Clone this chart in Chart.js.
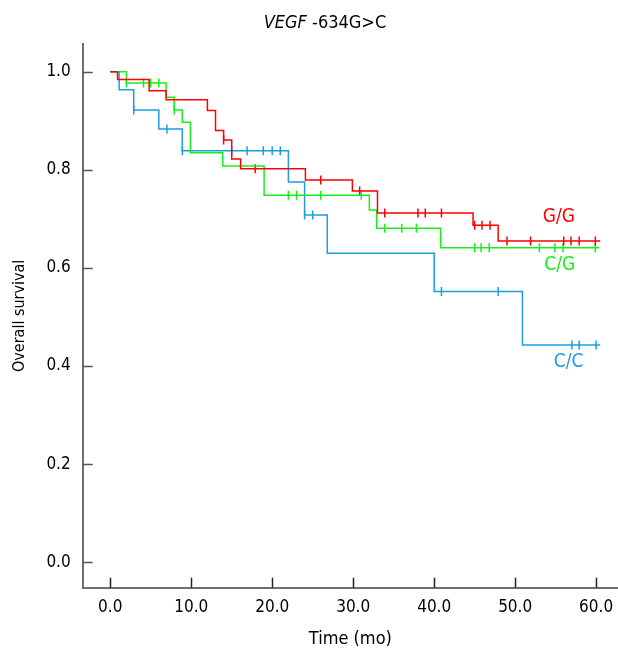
<!DOCTYPE html>
<html>
<head>
<meta charset="utf-8">
<script src="https://cdn.jsdelivr.net/npm/chart.js@4.4.1/dist/chart.umd.min.js"></script>
<style>
  html, body { margin: 0; padding: 0; background: #fff; }
</style>
</head>
<body>
<canvas id="km-chart" width="618" height="650"></canvas>
<script>
// Datos: tiempo (meses) y supervivencia global
const xTicks = [0, 10, 20, 30, 40, 50, 60];
const yTicks = [0, 0.2, 0.4, 0.6, 0.8, 1.0];

// G/G
const ggTimes = [0, 0.9, 4.8, 6.9, 12.0, 13.0, 14.0, 15.0, 16.1, 24.1, 29.9, 33.0, 44.8, 47.9, 60.5];
const ggSurv = [1.0, 0.984, 0.961, 0.943, 0.921, 0.880, 0.861, 0.822, 0.802, 0.779, 0.757, 0.712, 0.687, 0.655, 0.655];
const ggCensored = [14.0, 17.9, 26.0, 30.8, 33.9, 38.0, 38.9, 40.9, 45.0, 45.9, 46.9, 49.0, 51.9, 56.0, 56.9, 57.9, 59.9];

// C/G
const cgTimes = [0, 2.0, 6.9, 7.9, 8.9, 9.9, 13.9, 19.0, 32.0, 32.9, 40.8, 60.4];
const cgSurv = [1.0, 0.977, 0.948, 0.922, 0.897, 0.835, 0.808, 0.748, 0.718, 0.681, 0.641, 0.641];
const cgCensored = [2.0, 4.1, 5.0, 6.0, 7.9, 22.0, 23.0, 26.0, 31.0, 33.9, 36.0, 37.8, 45.0, 45.8, 46.8, 53.0, 54.9, 55.9, 59.9];

// C/C
const ccTimes = [0, 1.1, 2.9, 6.0, 8.9, 22.0, 24.0, 26.8, 40.0, 50.9, 60.5];
const ccSurv = [1.0, 0.963, 0.922, 0.883, 0.839, 0.775, 0.708, 0.630, 0.552, 0.443, 0.443];
const ccCensored = [2.9, 7.0, 8.9, 15.0, 16.9, 18.9, 20.0, 21.0, 24.0, 25.0, 40.9, 47.9, 57.0, 57.9, 60.0];

const colors = { gg: '#ff0000', cg: '#1aee1a', cc: '#1b9ee0' };
const fontFamily = '"DejaVu Sans Condensed", "DejaVu Sans", sans-serif';

// Convertir tiempos y valores a puntos {x, y}
function stepData(times, surv) {
  return times.map((t, i) => ({ x: t, y: surv[i] }));
}

// Las marcas de censura toman el valor de la curva en ese tiempo
function censorData(censored, times, surv) {
  return censored.map((c) => {
    let idx = 0;
    times.forEach((t, i) => { if (t <= c + 1e-9) idx = i; });
    return { x: c, y: surv[idx] };
  });
}

function curve(label, times, surv, color) {
  return {
    type: 'line',
    label: label,
    data: stepData(times, surv),
    borderColor: color,
    borderWidth: 1.5,
    stepped: 'before',
    pointRadius: 0,
    fill: false
  };
}

function marks(label, censored, times, surv, color) {
  return {
    type: 'scatter',
    label: label + ' censurados',
    data: censorData(censored, times, surv),
    borderColor: color,
    backgroundColor: color,
    pointStyle: 'line',
    rotation: 90,
    pointRadius: 4.5,
    borderWidth: 1.5,
    showLine: false
  };
}

// Etiquetas de cada grupo junto a las curvas
const groupLabels = [
  { text: 'G/G', x: 55.4, y: 0.704, color: colors.gg },
  { text: 'C/G', x: 55.5, y: 0.606, color: colors.cg },
  { text: 'C/C', x: 56.6, y: 0.408, color: colors.cc }
];

// Plugin: marcas de eje hacia dentro, título y etiquetas de grupo
const kmDecor = {
  id: 'kmDecor',
  afterDraw(chart) {
    const { ctx, chartArea } = chart;
    const x = chart.scales.x;
    const y = chart.scales.y;
    ctx.save();
    ctx.lineWidth = 1.5;
    ctx.strokeStyle = '#555';
    yTicks.forEach((v) => {
      const py = Math.round(y.getPixelForValue(v)) + 0.5;
      ctx.beginPath();
      ctx.moveTo(chartArea.left, py);
      ctx.lineTo(chartArea.left + 10, py);
      ctx.stroke();
    });
    ctx.strokeStyle = '#222';
    xTicks.forEach((v) => {
      const px = Math.round(x.getPixelForValue(v)) + 0.5;
      ctx.beginPath();
      ctx.moveTo(px, chartArea.bottom);
      ctx.lineTo(px, chartArea.bottom - 10);
      ctx.stroke();
    });

    // Título con "VEGF" en cursiva
    const part1 = 'VEGF';
    const part2 = ' -634G>C';
    ctx.fillStyle = '#000';
    ctx.textBaseline = 'middle';
    ctx.textAlign = 'left';
    ctx.font = 'italic 18px ' + fontFamily;
    const w1 = ctx.measureText(part1).width;
    ctx.font = '18px ' + fontFamily;
    const w2 = ctx.measureText(part2).width;
    const startX = 325 - (w1 + w2) / 2;
    ctx.font = 'italic 18px ' + fontFamily;
    ctx.fillText(part1, startX, 23);
    ctx.font = '18px ' + fontFamily;
    ctx.fillText(part2, startX + w1, 23);

    ctx.textAlign = 'center';
    ctx.font = '19px ' + fontFamily;
    groupLabels.forEach((g) => {
      ctx.fillStyle = g.color;
      ctx.fillText(g.text, x.getPixelForValue(g.x), y.getPixelForValue(g.y));
    });
    ctx.restore();
  }
};

document.addEventListener('DOMContentLoaded', () => {
  const ctx = document.getElementById('km-chart').getContext('2d');
  new Chart(ctx, {
    data: {
      datasets: [
        curve('G/G', ggTimes, ggSurv, colors.gg),
        curve('C/G', cgTimes, cgSurv, colors.cg),
        curve('C/C', ccTimes, ccSurv, colors.cc),
        marks('G/G', ggCensored, ggTimes, ggSurv, colors.gg),
        marks('C/G', cgCensored, cgTimes, cgSurv, colors.cg),
        marks('C/C', ccCensored, ccTimes, ccSurv, colors.cc)
      ]
    },
    options: {
      responsive: false,
      animation: false,
      devicePixelRatio: 1,
      layout: { autoPadding: false, padding: { top: 44, left: 0, right: 0, bottom: 0 } },
      plugins: {
        legend: { display: false },
        tooltip: { enabled: false },
        title: { display: false }
      },
      scales: {
        x: {
          type: 'linear',
          min: -3.4,
          max: 62.7,
          afterBuildTicks: (s) => { s.ticks = xTicks.map((v) => ({ value: v })); },
          afterFit: (s) => { s.height = 62.3; s.paddingLeft = 0; s.paddingRight = 0; },
          grid: { display: false, drawTicks: false },
          border: { display: true, color: '#6e6e6e', width: 2 },
          ticks: {
            padding: 10,
            color: '#000',
            font: { size: 17, family: fontFamily },
            callback: (v) => Number(v).toFixed(1)
          },
          title: {
            display: true,
            text: 'Time (mo)',
            color: '#000',
            font: { size: 18, family: fontFamily },
            padding: { top: 0, bottom: 0 }
          }
        },
        y: {
          type: 'linear',
          min: -0.052,
          max: 1.0565,
          afterBuildTicks: (s) => { s.ticks = yTicks.map((v) => ({ value: v })); },
          afterFit: (s) => { s.width = 82.7; s.paddingTop = 0; s.paddingBottom = 0; },
          grid: { display: false, drawTicks: false },
          border: { display: true, color: '#6e6e6e', width: 2 },
          ticks: {
            padding: 12,
            color: '#000',
            font: { size: 17, family: fontFamily },
            callback: (v) => Number(v).toFixed(1)
          },
          title: {
            display: true,
            text: 'Overall survival',
            color: '#000',
            font: { size: 16, family: fontFamily },
            padding: { top: 10, bottom: 0 }
          }
        }
      }
    },
    plugins: [kmDecor]
  });
});
</script>
</body>
</html>
